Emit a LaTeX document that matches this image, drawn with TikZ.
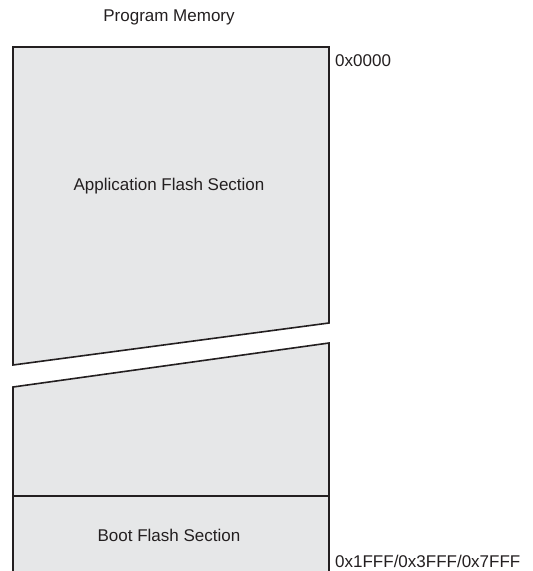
\documentclass[tikz,border=0pt]{standalone}
\usepackage{fontspec}
\setmainfont{Liberation Sans}
\usepackage{tikz}

\definecolor{memfill}{HTML}{E6E7E8}
\definecolor{memline}{HTML}{231F20}

\begin{document}
\begin{tikzpicture}[x=1pt,y=-1pt,
  memtext/.style={font=\fontsize{17}{20}\selectfont,text=memline,inner sep=0pt}]
\useasboundingbox (0,0) rectangle (533,571);
\fill[memfill] (13,47) -- (329,47) -- (329,323) -- (13,365) -- cycle;
\fill[memfill] (13,571) -- (13,387) -- (329,343) -- (329,571) -- cycle;
\draw[memline,line width=1.6pt] (13,47) -- (329,47) -- (329,323) -- (13,365) -- cycle;
\draw[memline,line width=1.6pt] (13,571) -- (13,387) -- (329,343) -- (329,571);
\draw[memline,line width=1.6pt] (13,496) -- (329,496);

\node[memtext] (title) at (169,17) {Program Memory};
\node[memtext] (appflash) at (169,186) {Application Flash Section};
\node[memtext] (bootflash) at (169,535) {Boot Flash Section};
\node[memtext,anchor=west] (addrlow) at (335,61) {0x0000};
\node[memtext,anchor=west] (addrhigh) at (335,561) {0x1FFF/0x3FFF/0x7FFF};

\end{tikzpicture}
\end{document}
